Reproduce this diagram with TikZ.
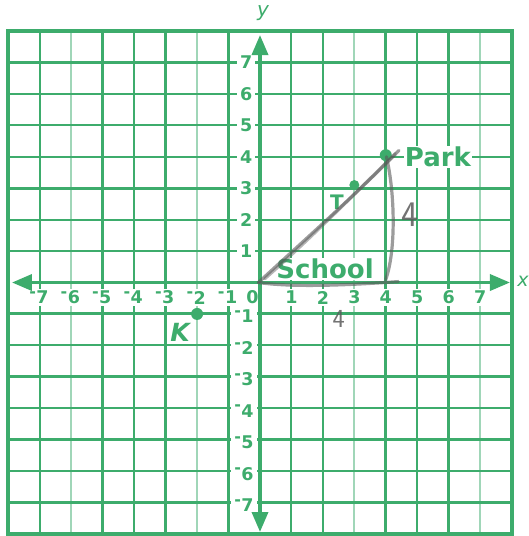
\documentclass[tikz,border=0pt]{standalone}
\usepackage{fontspec}
\setmainfont{DejaVu Sans}
\usetikzlibrary{arrows.meta}
\definecolor{grn}{RGB}{61,172,108}
\definecolor{grnlt}{RGB}{160,214,184}
\definecolor{pencil}{RGB}{90,90,90}
\newcommand\nm[1]{\raisebox{6.3pt}{\fontsize{16}{16}\selectfont -}\kern0.4pt#1}
\begin{document}
\begin{tikzpicture}[x=31.45pt,y=31.45pt,
  gridn/.style={grn,line width=2pt},
  gridt/.style={grn,line width=3pt},
  gridl/.style={grnlt,line width=2pt},
  frame/.style={grn,line width=4pt},
  axis/.style={grn,line width=3.5pt,{Triangle[length=20pt,width=16pt]}-{Triangle[length=20pt,width=16pt]}},
  xlab/.style={grn,fill=white,inner xsep=1.5pt,inner ysep=2pt,font=\fontsize{17.5}{17.5}\selectfont\bfseries},
  ylab/.style={xlab,anchor=east,inner xsep=3pt,inner ysep=1pt},
  ptdot/.style={circle,fill=grn,inner sep=0pt,minimum size=12pt},
  bigword/.style={grn,font=\fontsize{26}{26}\selectfont\bfseries,fill=white,inner sep=1pt},
  pencilline/.style={pencil,opacity=0.6,line width=3.2pt,line cap=round},
  hand/.style={pencil,opacity=0.85,inner sep=0pt}
]
\useasboundingbox (-8.267,-8.060) rectangle (8.553,8.983);
% grid
\foreach \i in {-7,-4,1,2,5} \draw[gridn] (\i,-8) -- (\i,8);
\foreach \i in {-5,-3,-1,4,6} \draw[gridt] (\i,-8) -- (\i,8);
\foreach \i in {-6,-2,3,7} \draw[gridl] (\i,-8) -- (\i,8);
\foreach \j in {6,5,4,2,1,-2,-4,-6} \draw[gridn] (-8,\j) -- (8,\j);
\foreach \j in {7,3,-1,-3,-5,-7} \draw[gridt] (-8,\j) -- (8,\j);
\draw[frame] (-8,-8) rectangle (8,8);
% axis numbers
\foreach \i in {1,...,7} \node[xlab] (xp\i) at (\i,-0.48) {\i};
\foreach \i in {1,...,7} \node[xlab] (xn\i) at (-\i-0.03,-0.48) {\nm{\i}};
\foreach \j in {1,...,7} \node[ylab] (yp\j) at (-0.14,\j) {\j};
\foreach \j in {1,...,7} \node[ylab] (yn\j) at (-0.10,-\j-0.08) {\nm{\j}};
\node[xlab,fill=none] (zero) at (-0.24,-0.46) {0};
% points and labels
\node[ptdot] (K) at (-2,-1) {};
\node[ptdot] (Pk) at (4,4.05) {};
\node[ptdot,minimum size=10pt] (T) at (3,3.1) {};
\node[bigword,anchor=west] (parklab) at (4.57,4.0) {Park};
\node[bigword] (schoollab) at (2.07,0.43) {School};
\node[bigword,font=\fontsize{25}{25}\selectfont\bfseries\itshape] (klab) at (-2.54,-1.58) {K};
\node[grn,font=\fontsize{20}{20}\selectfont\bfseries] (tlab) at (2.45,2.56) {T};
% axes
\coordinate (xl) at (-7.886,0);
\coordinate (xr) at (7.949,0);
\coordinate (yb) at (0,-7.933);
\coordinate (yt) at (0,7.87);
\draw[axis] (xl) -- (xr);
\draw[axis] (yb) -- (yt);
\node[grn,font=\fontsize{20}{20}\selectfont\itshape] (ylabel) at (0.1,8.57) {y};
\node[grn,font=\fontsize{19}{19}\selectfont\itshape] (xlabel) at (8.36,0.05) {x};
% pencil work
\coordinate (O) at (-0.05,0.0);
\coordinate (P) at (4.42,4.2);
\coordinate (Q) at (4.0,0.1);
\draw[pencilline] (O) .. controls (1.3,1.25) and (3.0,2.75) .. (P);
\draw[pencilline,opacity=0.45] (0.15,0.12) .. controls (1.5,1.3) and (3.0,2.8) .. (4.3,4.1);
\draw[pencilline] (4.02,4.0) .. controls (4.3,2.8) and (4.32,1.0) .. (Q);
\draw[pencilline] (O) .. controls (1.0,-0.15) and (2.6,-0.1) .. (4.4,0.03);
\node[hand,font=\sffamily\fontsize{36}{36}\selectfont] (four1) at (4.77,2.15) {4};
\node[hand,font=\sffamily\fontsize{26}{26}\selectfont] (four2) at (2.50,-1.16) {4};
\end{tikzpicture}
\end{document}
